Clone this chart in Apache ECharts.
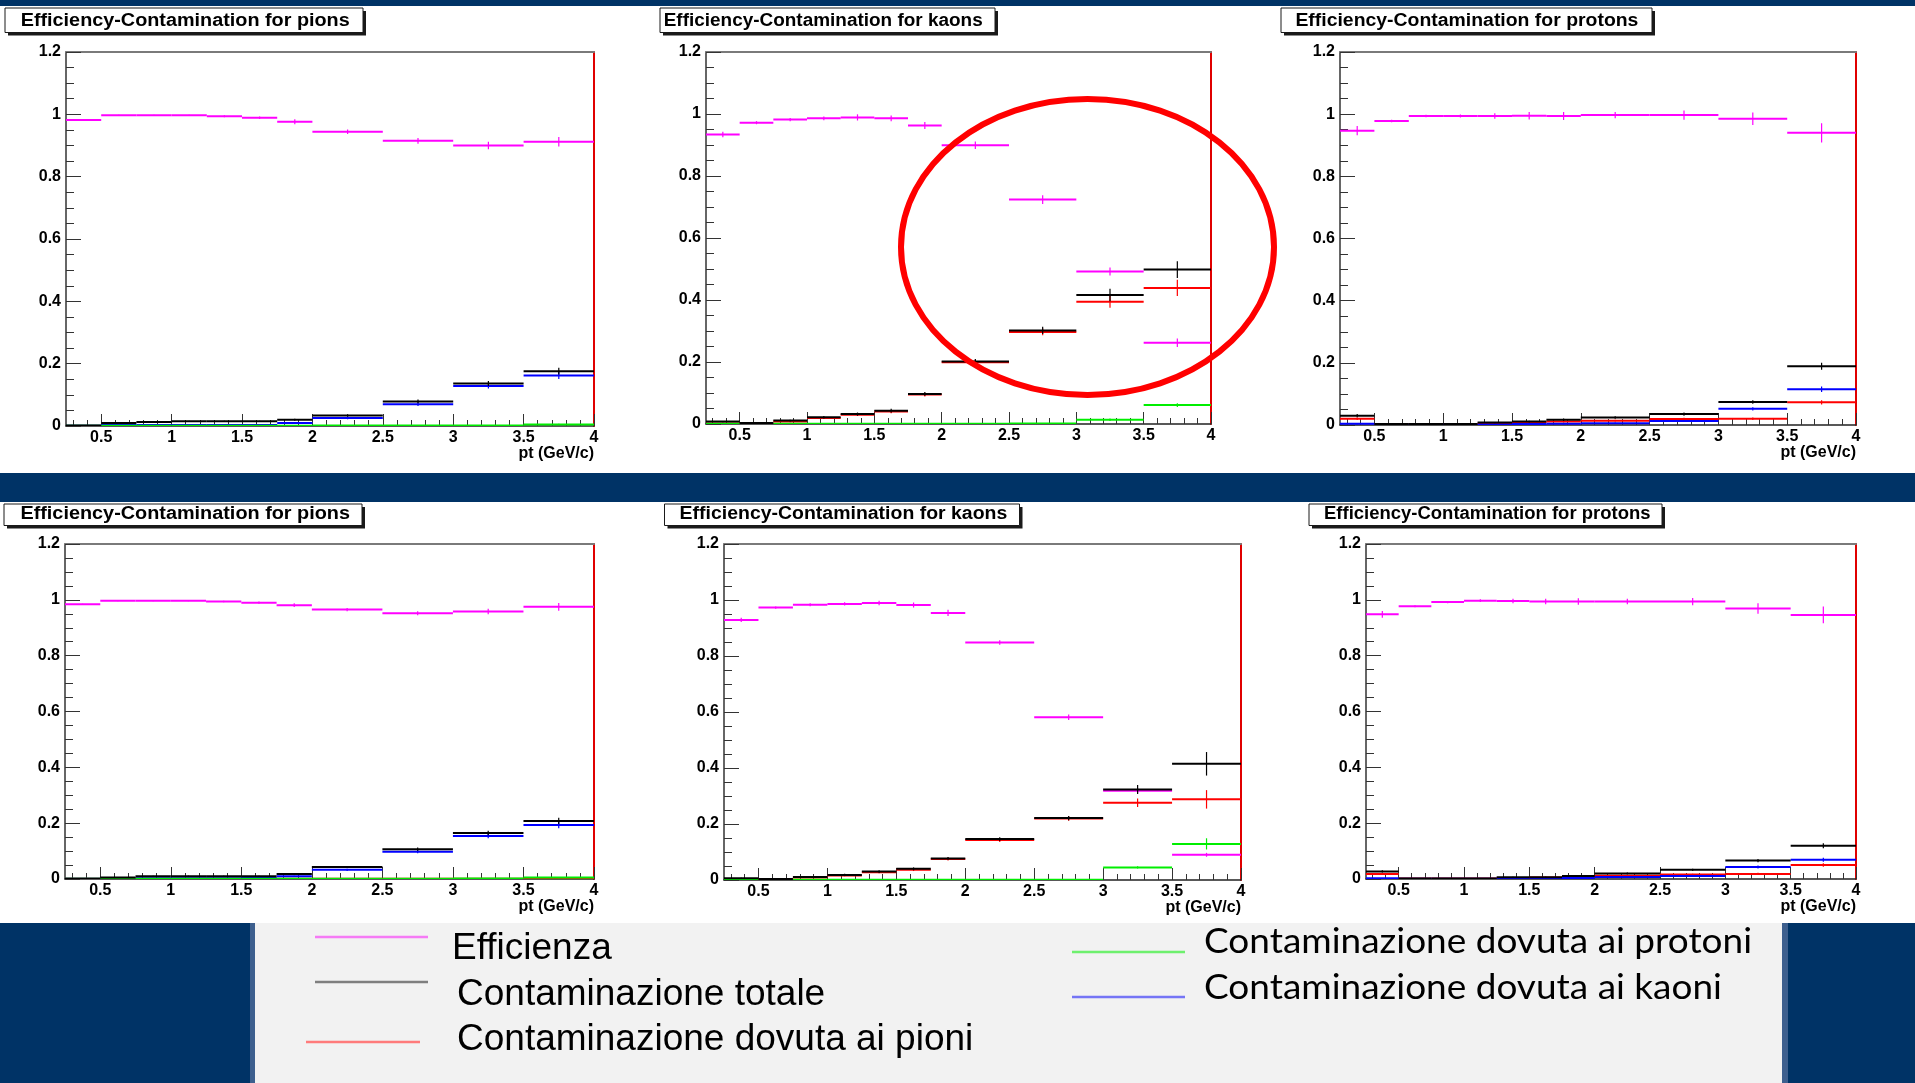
<!DOCTYPE html>
<html>
<head>
<meta charset="utf-8">
<script src="https://cdn.jsdelivr.net/npm/echarts@6/dist/echarts.min.js"></script>
<style>
  html, body { margin: 0; padding: 0; background: #ffffff; }
  #chart { width: 1915px; height: 1083px; }
</style>
</head>
<body>
<div id="chart"></div>
<script>
// ---- axis definitions (pt bins in GeV/c) ----
const binEdges = [0.25, 0.5, 0.75, 1.0, 1.25, 1.5, 1.75, 2.0, 2.5, 3.0, 3.5, 4.0];
const xMajorTicks = [0.5, 1, 1.5, 2, 2.5, 3, 3.5, 4];
const xMinorTicks = [0.3, 0.4, 0.6, 0.7, 0.8, 0.9, 1.1, 1.2, 1.3, 1.4, 1.6, 1.7, 1.8, 1.9,
                     2.1, 2.2, 2.3, 2.4, 2.6, 2.7, 2.8, 2.9, 3.1, 3.2, 3.3, 3.4, 3.6, 3.7, 3.8, 3.9];
const yTickStep = 0.2;
const yTop = 1.2;

const titles = [
  'Efficiency-Contamination for pions',
  'Efficiency-Contamination for kaons',
  'Efficiency-Contamination for protons',
  'Efficiency-Contamination for pions',
  'Efficiency-Contamination for kaons',
  'Efficiency-Contamination for protons'
];
const xAxisTitle = 'pt (GeV/c)';

const seriesNames = ['Efficienza', 'Contaminazione totale', 'Contaminazione dovuta ai pioni',
                     'Contaminazione dovuta ai protoni', 'Contaminazione dovuta ai kaoni'];

// ---- pions, upper row ----
const effPionsTop    = [0.982, 0.997, 0.997, 0.997, 0.994, 0.989, 0.976, 0.944, 0.915, 0.900, 0.912];
const effErrPionsTop = [0.003, 0.002, 0.002, 0.002, 0.003, 0.004, 0.008, 0.007, 0.009, 0.012, 0.015];
const totPionsTop    = [0.002, 0.010, 0.013, 0.015, 0.015, 0.015, 0.020, 0.034, 0.079, 0.136, 0.176];
const totErrPionsTop = [0.001, 0.002, 0.002, 0.002, 0.002, 0.002, 0.003, 0.004, 0.006, 0.008, 0.011];
const piPionsTop     = [0, 0, 0, 0, 0, 0, 0, 0, 0, 0, 0];
const piErrPionsTop  = [0, 0, 0, 0, 0, 0, 0, 0, 0, 0, 0];
const kPionsTop      = [0.001, 0.003, 0.003, 0.003, 0.003, 0.003, 0.010, 0.026, 0.070, 0.128, 0.162];
const kErrPionsTop   = [0.001, 0.001, 0.001, 0.001, 0.001, 0.001, 0.002, 0.004, 0.006, 0.008, 0.011];
const pPionsTop      = [0.001, 0.001, 0.001, 0.001, 0.001, 0.001, 0.001, 0.002, 0.002, 0.002, 0.005];
const pErrPionsTop   = [0.001, 0.001, 0.001, 0.001, 0.001, 0.001, 0.001, 0.001, 0.001, 0.001, 0.002];

// ---- kaons, upper row ----
const effKaonsTop    = [0.934, 0.972, 0.982, 0.986, 0.989, 0.986, 0.963, 0.899, 0.724, 0.492, 0.262];
const effErrKaonsTop = [0.009, 0.005, 0.005, 0.006, 0.010, 0.009, 0.011, 0.012, 0.014, 0.013, 0.014];
const totKaonsTop    = [0.008, 0.003, 0.011, 0.022, 0.032, 0.043, 0.097, 0.202, 0.302, 0.416, 0.498];
const totErrKaonsTop = [0.002, 0.002, 0.003, 0.004, 0.005, 0.006, 0.006, 0.008, 0.012, 0.020, 0.027];
const piKaonsTop     = [0.002, 0.002, 0.008, 0.019, 0.030, 0.040, 0.095, 0.199, 0.297, 0.394, 0.439];
const piErrKaonsTop  = [0.001, 0.001, 0.002, 0.003, 0.004, 0.005, 0.006, 0.008, 0.011, 0.019, 0.026];
const kKaonsTop      = [0, 0, 0, 0, 0, 0, 0, 0, 0, 0, 0];
const kErrKaonsTop   = [0, 0, 0, 0, 0, 0, 0, 0, 0, 0, 0];
const pKaonsTop      = [0.001, 0.001, 0.001, 0.001, 0.001, 0.001, 0.001, 0.001, 0.002, 0.014, 0.061];
const pErrKaonsTop   = [0.001, 0.001, 0.001, 0.001, 0.001, 0.001, 0.001, 0.001, 0.001, 0.004, 0.006];

// ---- protons, upper row ----
const effProtonsTop    = [0.947, 0.978, 0.994, 0.994, 0.994, 0.995, 0.994, 0.997, 0.997, 0.985, 0.940];
const effErrProtonsTop = [0.015, 0.004, 0.004, 0.005, 0.009, 0.012, 0.013, 0.010, 0.015, 0.020, 0.031];
const totProtonsTop    = [0.030, 0.003, 0.003, 0.003, 0.008, 0.011, 0.017, 0.024, 0.035, 0.074, 0.189];
const totErrProtonsTop = [0.005, 0.001, 0.001, 0.001, 0.002, 0.003, 0.004, 0.004, 0.005, 0.006, 0.011];
const piProtonsTop     = [0.020, 0.002, 0.002, 0.002, 0.005, 0.008, 0.011, 0.014, 0.019, 0.020, 0.073];
const piErrProtonsTop  = [0.004, 0.001, 0.001, 0.001, 0.002, 0.002, 0.003, 0.003, 0.004, 0.004, 0.007];
const kProtonsTop      = [0.004, 0.002, 0.002, 0.002, 0.002, 0.003, 0.004, 0.006, 0.013, 0.052, 0.115];
const kErrProtonsTop   = [0.002, 0.001, 0.001, 0.001, 0.001, 0.001, 0.002, 0.002, 0.003, 0.005, 0.009];
const pProtonsTop      = [0, 0, 0, 0, 0, 0, 0, 0, 0, 0, 0];
const pErrProtonsTop   = [0, 0, 0, 0, 0, 0, 0, 0, 0, 0, 0];

// ---- pions, lower row ----
const effPionsBot    = [0.984, 0.997, 0.997, 0.997, 0.994, 0.990, 0.981, 0.965, 0.952, 0.958, 0.975];
const effErrPionsBot = [0.002, 0.002, 0.002, 0.002, 0.003, 0.004, 0.007, 0.006, 0.007, 0.010, 0.014];
const totPionsBot    = [0.001, 0.005, 0.010, 0.010, 0.010, 0.010, 0.018, 0.043, 0.107, 0.165, 0.208];
const totErrPionsBot = [0.001, 0.001, 0.002, 0.002, 0.002, 0.002, 0.003, 0.004, 0.006, 0.008, 0.011];
const piPionsBot     = [0.001, 0.004, 0.001, 0.001, 0.001, 0.001, 0.001, 0.001, 0.001, 0.001, 0.001];
const piErrPionsBot  = [0.001, 0.001, 0.001, 0.001, 0.001, 0.001, 0.001, 0.001, 0.001, 0.001, 0.001];
const kPionsBot      = [0.001, 0.002, 0.003, 0.003, 0.003, 0.004, 0.010, 0.033, 0.098, 0.154, 0.193];
const kErrPionsBot   = [0.001, 0.001, 0.001, 0.001, 0.001, 0.001, 0.002, 0.004, 0.006, 0.008, 0.011];
const pPionsBot      = [0.001, 0.001, 0.001, 0.001, 0.001, 0.001, 0.001, 0.001, 0.001, 0.002, 0.005];
const pErrPionsBot   = [0.001, 0.001, 0.001, 0.001, 0.001, 0.001, 0.001, 0.001, 0.001, 0.001, 0.002];

// ---- kaons, lower row ----
const effKaonsBot    = [0.929, 0.973, 0.983, 0.986, 0.989, 0.982, 0.954, 0.848, 0.581, 0.319, 0.090];
const effErrKaonsBot = [0.008, 0.004, 0.005, 0.006, 0.008, 0.009, 0.011, 0.008, 0.010, 0.010, 0.007];
const totKaonsBot    = [0.006, 0.004, 0.011, 0.018, 0.030, 0.040, 0.077, 0.146, 0.221, 0.323, 0.415];
const totErrKaonsBot = [0.002, 0.002, 0.003, 0.004, 0.005, 0.005, 0.005, 0.007, 0.008, 0.016, 0.042];
const piKaonsBot     = [0.004, 0.003, 0.009, 0.016, 0.028, 0.037, 0.075, 0.143, 0.220, 0.276, 0.288];
const piErrKaonsBot  = [0.001, 0.001, 0.002, 0.003, 0.004, 0.005, 0.005, 0.007, 0.008, 0.015, 0.033];
const kKaonsBot      = [0, 0, 0, 0, 0, 0, 0, 0, 0, 0, 0];
const kErrKaonsBot   = [0, 0, 0, 0, 0, 0, 0, 0, 0, 0, 0];
const pKaonsBot      = [0.001, 0.001, 0.001, 0.001, 0.001, 0.001, 0.001, 0.001, 0.001, 0.045, 0.129];
const pErrKaonsBot   = [0.001, 0.001, 0.001, 0.001, 0.001, 0.001, 0.001, 0.001, 0.001, 0.004, 0.020];

// ---- protons, lower row ----
const effProtonsBot    = [0.948, 0.977, 0.992, 0.997, 0.996, 0.994, 0.994, 0.994, 0.994, 0.969, 0.946];
const effErrProtonsBot = [0.012, 0.004, 0.004, 0.005, 0.008, 0.010, 0.012, 0.010, 0.013, 0.019, 0.030];
const totProtonsBot    = [0.027, 0.002, 0.002, 0.002, 0.006, 0.006, 0.011, 0.020, 0.033, 0.066, 0.119];
const totErrProtonsBot = [0.004, 0.001, 0.001, 0.001, 0.002, 0.002, 0.003, 0.003, 0.004, 0.006, 0.009];
const piProtonsBot     = [0.018, 0.002, 0.002, 0.002, 0.004, 0.005, 0.007, 0.012, 0.016, 0.018, 0.050];
const piErrProtonsBot  = [0.003, 0.001, 0.001, 0.001, 0.001, 0.002, 0.002, 0.003, 0.003, 0.004, 0.006];
const kProtonsBot      = [0.003, 0.001, 0.001, 0.001, 0.002, 0.002, 0.004, 0.007, 0.011, 0.043, 0.069];
const kErrProtonsBot   = [0.001, 0.001, 0.001, 0.001, 0.001, 0.001, 0.002, 0.002, 0.003, 0.005, 0.007];
const pProtonsBot      = [0, 0, 0, 0, 0, 0, 0, 0, 0, 0, 0];
const pErrProtonsBot   = [0, 0, 0, 0, 0, 0, 0, 0, 0, 0, 0];

// ---- page layout ----
const NAVY = '#003366';
const AXIS_FONT = 'Liberation Sans';

// series drawing order and colours (eff, pi, k, p, tot)
const seriesStyle = [
  { key: 'eff', name: seriesNames[0], color: '#ff00ff' },
  { key: 'pi',  name: seriesNames[2], color: '#ff0000' },
  { key: 'k',   name: seriesNames[4], color: '#0000ff' },
  { key: 'p',   name: seriesNames[3], color: '#00ee00' },
  { key: 'tot', name: seriesNames[1], color: '#000000' }
];

const panels = [
  { grid: [66, 52, 528, 374],  box: [5, 8, 358, 24.5],    titleX: 20.7,   titleW: 329, titleY: 20.8, xTitle: true,
    data: { eff: [effPionsTop, effErrPionsTop], tot: [totPionsTop, totErrPionsTop], pi: [piPionsTop, piErrPionsTop], k: [kPionsTop, kErrPionsTop], p: [pPionsTop, pErrPionsTop] } },
  { grid: [706, 52, 505, 372], box: [660, 8, 335, 24.5],  titleX: 663.7,  titleW: 319, titleY: 20.8, xTitle: false,
    data: { eff: [effKaonsTop, effErrKaonsTop], tot: [totKaonsTop, totErrKaonsTop], pi: [piKaonsTop, piErrKaonsTop], k: [kKaonsTop, kErrKaonsTop], p: [pKaonsTop, pErrKaonsTop] } },
  { grid: [1340, 52, 516, 373], box: [1281, 8, 371, 24.5], titleX: 1295.4, titleW: 343, titleY: 20.8, xTitle: true,
    data: { eff: [effProtonsTop, effErrProtonsTop], tot: [totProtonsTop, totErrProtonsTop], pi: [piProtonsTop, piErrProtonsTop], k: [kProtonsTop, kErrProtonsTop], p: [pProtonsTop, pErrProtonsTop] } },
  { grid: [65, 544, 529, 335], box: [4, 504, 358, 21.5],  titleX: 20.4,   titleW: 329.6, titleY: 514.3, xTitle: true,
    data: { eff: [effPionsBot, effErrPionsBot], tot: [totPionsBot, totErrPionsBot], pi: [piPionsBot, piErrPionsBot], k: [kPionsBot, kErrPionsBot], p: [pPionsBot, pErrPionsBot] } },
  { grid: [724, 544, 517, 336], box: [664.5, 504, 355, 21.5], titleX: 679.6, titleW: 327.7, titleY: 514.3, xTitle: true,
    data: { eff: [effKaonsBot, effErrKaonsBot], tot: [totKaonsBot, totErrKaonsBot], pi: [piKaonsBot, piErrKaonsBot], k: [kKaonsBot, kErrKaonsBot], p: [pKaonsBot, pErrKaonsBot] } },
  { grid: [1366, 544, 490, 335], box: [1309, 504, 353, 21.5], titleX: 1324, titleW: 326.5, titleY: 514.3, xTitle: true,
    data: { eff: [effProtonsBot, effErrProtonsBot], tot: [totProtonsBot, totErrProtonsBot], pi: [piProtonsBot, piErrProtonsBot], k: [kProtonsBot, kErrProtonsBot], p: [pProtonsBot, pErrProtonsBot] } }
];

// text width helper, used to fit stretched lettering into its box
const measureCtx = document.createElement('canvas').getContext('2d');
function textWidth(text, font) {
  measureCtx.font = font;
  return measureCtx.measureText(text).width;
}

// one histogram bin: horizontal bar over the bin plus a vertical error bar;
// empty bins (zero content, zero error) are not drawn
function renderBin(params, api) {
  const lo = api.value(0), hi = api.value(1), v = api.value(2), e = api.value(3);
  if (v === 0 && e === 0) return null;
  const mid = (lo + hi) / 2;
  const a = api.coord([lo, v]);
  const b = api.coord([hi, v]);
  const t = api.coord([mid, Math.min(yTop, v + e)]);
  const d = api.coord([mid, Math.max(0, v - e)]);
  const color = api.visual('color');
  return {
    type: 'group',
    children: [
      { type: 'line', shape: { x1: a[0], y1: a[1], x2: b[0], y2: b[1] }, style: { stroke: color, lineWidth: 2 } },
      { type: 'line', shape: { x1: t[0], y1: t[1], x2: d[0], y2: d[1] }, style: { stroke: color, lineWidth: 1.2 } }
    ]
  };
}

const option = {
  animation: false,
  backgroundColor: '#ffffff',
  grid: [], xAxis: [], yAxis: [], series: [], graphic: []
};

const tickColor = '#333333';
const labelStyle = { color: '#000000', fontFamily: AXIS_FONT, fontWeight: 'bold', fontSize: 16 };

// background bands of the page
option.graphic.push(
  { type: 'rect', z: -10, shape: { x: 0, y: 0, width: 1915, height: 6 }, style: { fill: NAVY } },
  { type: 'rect', z: -10, shape: { x: 0, y: 473, width: 1915, height: 29 }, style: { fill: NAVY } },
  { type: 'rect', z: -10, shape: { x: 0, y: 923, width: 1915, height: 160 }, style: { fill: NAVY } },
  { type: 'rect', z: -9, shape: { x: 250, y: 923, width: 1538, height: 160 }, style: { fill: '#3d5f8e' } },
  { type: 'rect', z: -8, shape: { x: 255, y: 923, width: 1527, height: 160 }, style: { fill: '#f2f2f2' } }
);

panels.forEach((p, gi) => {
  const [gl, gt, gw, gh] = p.grid;
  option.grid.push({ left: gl, top: gt, width: gw, height: gh, containLabel: false, outerBoundsMode: 'none', show: false });

  // bottom axis: major ticks and labels
  option.xAxis.push({
    type: 'value', gridIndex: gi, position: 'bottom', min: binEdges[0], max: binEdges[binEdges.length - 1],
    splitLine: { show: false },
    axisLine: { show: true, onZero: false, lineStyle: { color: '#222222', width: 1.5 } },
    axisTick: { show: true, inside: true, length: 12, customValues: xMajorTicks, lineStyle: { color: tickColor, width: 1 } },
    axisLabel: Object.assign({ show: true, customValues: xMajorTicks, margin: 4 }, labelStyle)
  });
  // bottom axis: minor ticks
  option.xAxis.push({
    type: 'value', gridIndex: gi, position: 'bottom', min: binEdges[0], max: binEdges[binEdges.length - 1],
    splitLine: { show: false },
    axisLine: { show: false },
    axisTick: { show: true, inside: true, length: 6, customValues: xMinorTicks, lineStyle: { color: tickColor, width: 1 } },
    axisLabel: { show: false }
  });
  // top frame edge
  option.xAxis.push({
    type: 'value', gridIndex: gi, position: 'top', min: binEdges[0], max: binEdges[binEdges.length - 1],
    splitLine: { show: false },
    axisLine: { show: true, onZero: false, lineStyle: { color: '#7a7a7a', width: 2 } },
    axisTick: { show: false }, axisLabel: { show: false }
  });
  // left value axis
  option.yAxis.push({
    type: 'value', gridIndex: gi, position: 'left', min: 0, max: yTop, interval: yTickStep,
    splitLine: { show: false }, minorSplitLine: { show: false },
    axisLine: { show: true, onZero: false, lineStyle: { color: '#333333', width: 1.5 } },
    axisTick: { show: true, inside: true, length: 15, lineStyle: { color: tickColor, width: 1 } },
    minorTick: { show: true, splitNumber: 4, length: 8, lineStyle: { color: tickColor, width: 1 } },
    axisLabel: Object.assign({ show: true, margin: 5 }, labelStyle)
  });
  // right frame edge
  option.yAxis.push({
    type: 'value', gridIndex: gi, position: 'right', min: 0, max: yTop,
    splitLine: { show: false },
    axisLine: { show: true, onZero: false, lineStyle: { color: '#e00000', width: 2 } },
    axisTick: { show: false }, axisLabel: { show: false }
  });

  seriesStyle.forEach(s => {
    const [vals, errs] = p.data[s.key];
    option.series.push({
      type: 'custom',
      name: s.name,
      xAxisIndex: gi * 3,
      yAxisIndex: gi * 2,
      clip: true,
      itemStyle: { color: s.color },
      renderItem: renderBin,
      data: vals.map((v, i) => [binEdges[i], binEdges[i + 1], v, errs[i]])
    });
  });

  // title box with drop shadow
  const [bx, by, bw, bh] = p.box;
  const titleFont = 'bold 18px "' + AXIS_FONT + '"';
  option.graphic.push(
    { type: 'rect', z: 5, shape: { x: bx + 3, y: by + 3, width: bw, height: bh }, style: { fill: '#1a1a1a' } },
    { type: 'rect', z: 6, shape: { x: bx, y: by, width: bw, height: bh }, style: { fill: '#ffffff', stroke: '#1a1a1a', lineWidth: 1 } },
    { type: 'text', z: 7, x: p.titleX, y: p.titleY,
      scaleX: p.titleW / textWidth(titles[gi], titleFont),
      style: { text: titles[gi], font: titleFont, fill: '#000000', align: 'left', verticalAlign: 'middle' } }
  );

  // x axis title under the right end
  if (p.xTitle) {
    option.graphic.push({
      type: 'text', z: 7, x: gl + gw, y: gt + gh + 28,
      style: { text: xAxisTitle, font: 'bold 16px "' + AXIS_FONT + '"', fill: '#000000', align: 'right', verticalAlign: 'middle' }
    });
  }
});

// highlight ring around the high-pt kaon bins
option.graphic.push({
  type: 'ellipse', z: 50,
  shape: { cx: 1087.5, cy: 247, rx: 186.5, ry: 148 },
  style: { fill: null, stroke: '#ff0000', lineWidth: 6 }
});

// legend panel
const legendLeftFont = '37px "Liberation Sans"';
const legendRightFont = '34px "Lato"';
const rightScale = 548 / textWidth(seriesNames[3], legendRightFont);
const legendEntries = [
  { name: seriesNames[0], line: [315, 428, 937],  color: '#f57af5', tx: 452,  ty: 949,  font: legendLeftFont,  sx: 1 },
  { name: seriesNames[1], line: [315, 428, 982],  color: '#7f7f7f', tx: 457,  ty: 995,  font: legendLeftFont,  sx: 1 },
  { name: seriesNames[2], line: [306, 420, 1042], color: '#ff7b7b', tx: 457,  ty: 1040, font: legendLeftFont,  sx: 1 },
  { name: seriesNames[3], line: [1072, 1185, 952], color: '#6ef06e', tx: 1204, ty: 942, font: legendRightFont, sx: rightScale },
  { name: seriesNames[4], line: [1072, 1185, 997], color: '#7575f5', tx: 1204, ty: 988, font: legendRightFont, sx: rightScale }
];
legendEntries.forEach(e => {
  option.graphic.push(
    { type: 'line', z: 10, shape: { x1: e.line[0], y1: e.line[2], x2: e.line[1], y2: e.line[2] }, style: { stroke: e.color, lineWidth: 2.5 } },
    { type: 'text', z: 10, x: e.tx, y: e.ty, scaleX: e.sx,
      style: { text: e.name, font: e.font, fill: '#000000', align: 'left', verticalAlign: 'middle' } }
  );
});

const chart = echarts.init(document.getElementById('chart'), null, { renderer: 'canvas' });
chart.setOption(option);
</script>
</body>
</html>
